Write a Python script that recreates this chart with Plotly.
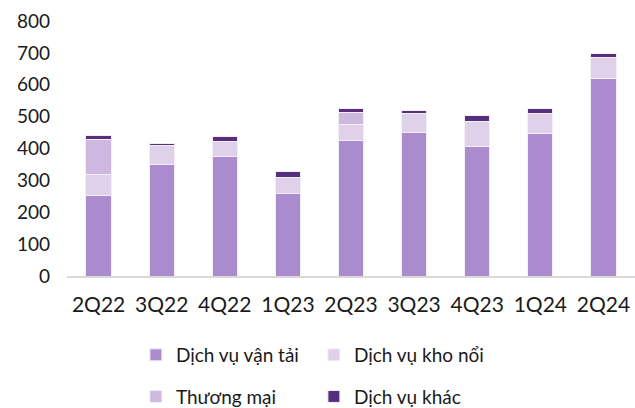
import plotly.graph_objects as go

quarters = ["2Q22", "3Q22", "4Q22", "1Q23", "2Q23", "3Q23", "4Q23", "1Q24", "2Q24"]
van_tai = [253, 351, 374, 260, 425, 451, 406, 448, 620]
kho_noi = [66, 58, 49, 50, 50, 59, 79, 62, 65]
thuong_mai = [109, 0, 0, 0, 39, 0, 0, 0, 0]
khac = [12, 7, 15, 18, 10, 8, 17, 17, 14]

series = [
    ("Dịch vụ vận tải", van_tai, "#A98BCE", "legend"),
    ("Dịch vụ kho nổi", kho_noi, "#DFD1EA", "legend"),
    ("Thương mại", thuong_mai, "#CDB8E0", "legend2"),
    ("Dịch vụ khác", khac, "#56307F", "legend2"),
]

fig = go.Figure()
for name, vals, color, lg in series:
    fig.add_trace(go.Bar(
        x=quarters, y=vals, name=name, legend=lg,
        marker=dict(color=color, line=dict(color="#F3EEF8", width=1)),
    ))

font = dict(family="Lato, Nunito, sans-serif", size=19, color="#1a1a1a")
legend_common = dict(
    orientation="h", xanchor="left", yanchor="middle", traceorder="normal",
    xref="container", yref="container",
    font=font, entrywidth=133, itemwidth=30, bgcolor="rgba(0,0,0,0)",
)

fig.update_layout(
    barmode="stack",
    bargap=0.6,
    width=635, height=408,
    margin=dict(l=67, r=0, t=21, b=132, autoexpand=False),
    paper_bgcolor="white", plot_bgcolor="white",
    font=font,
    xaxis=dict(showline=True, linecolor="#d9d9d9", linewidth=2, ticks="",
               showgrid=False, ticklabelstandoff=9, automargin=False,
               tickfont=dict(font, size=21)),
    yaxis=dict(range=[0, 800], dtick=100, showgrid=False, zeroline=False,
               ticks="", ticklabelstandoff=16, automargin=False),
    legend=dict(x=0.214, y=0.13, **legend_common),
    legend2=dict(x=0.214, y=0.028, **legend_common),
)

# page has a default 8px body margin, drop it so the figure sits at the corner
fig.write_html("out.html", config={"displayModeBar": False},
               post_script="document.body.style.margin='0';")
